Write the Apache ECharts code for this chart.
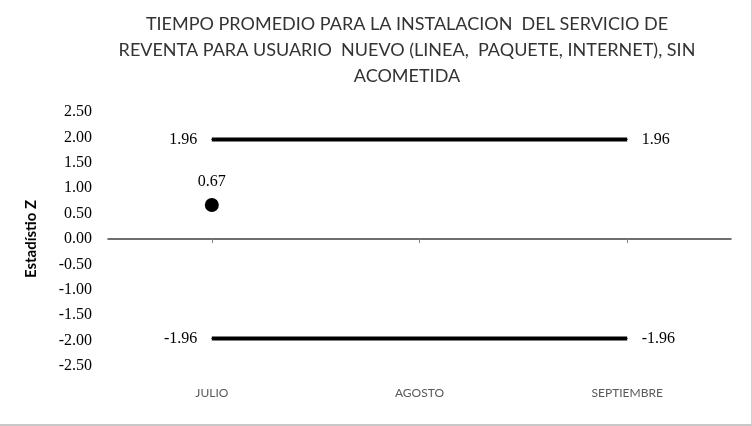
<!DOCTYPE html>
<html>
<head>
<meta charset="utf-8">
<script src="https://cdn.jsdelivr.net/npm/echarts@6/dist/echarts.min.js"></script>
<style>
html,body{margin:0;padding:0;background:#fff;}
#c{width:752px;height:426px;box-sizing:border-box;border-right:1px solid #d0d0d0;border-bottom:2px solid #c8c8c8;}
</style>
</head>
<body>
<div id="c"></div>
<script>
var categories = ['JULIO', 'AGOSTO', 'SEPTIEMBRE'];
var upperLimit = [1.96, 1.96, 1.96];
var lowerLimit = [-1.96, -1.96, -1.96];
var zValues = [0.67, null, null];
var titleText = 'TIEMPO PROMEDIO PARA LA INSTALACION  DEL SERVICIO DE\nREVENTA PARA USUARIO  NUEVO (LINEA,  PAQUETE, INTERNET), SIN\nACOMETIDA';
var yAxisName = 'Estadístio Z';

var serifFont = 'Liberation Serif';
var sansFont = 'Lato';
function limitData(arr) {
  return arr.map(function (v, i) {
    var item = { value: v };
    if (i === 0) item.label = { show: true, position: 'left' };
    else if (i === arr.length - 1) item.label = { show: true, position: 'right' };
    return item;
  });
}
var limitLabel = {
  show: false, distance: 14, color: '#000', fontFamily: serifFont, fontSize: 16,
  formatter: function (p) { return p.value.toFixed(2); }
};

var chart = echarts.init(document.getElementById('c'));
chart.setOption({
  animation: false,
  backgroundColor: '#fff',
  title: {
    text: titleText,
    left: 402, top: 6, textAlign: 'center',
    textStyle: { fontFamily: sansFont, fontSize: 18, fontWeight: 'normal', color: '#333', lineHeight: 26 }
  },
  grid: { left: 108, right: 20, top: 112, bottom: 58 },
  xAxis: [
    {
      type: 'category', data: categories, position: 'bottom',
      axisLine: { onZero: true, lineStyle: { color: '#404040', width: 1.5 } },
      axisTick: { show: true, alignWithLabel: true, length: 4, lineStyle: { color: '#808080' } },
      axisLabel: { show: false }
    },
    {
      type: 'category', data: categories, position: 'bottom',
      axisLine: { show: false, onZero: false }, axisTick: { show: false },
      axisLabel: { show: true, margin: 21, fontFamily: sansFont, fontSize: 12, color: '#595959' }
    }
  ],
  yAxis: {
    type: 'value', min: -2.5, max: 2.5, interval: 0.5,
    name: yAxisName, nameLocation: 'middle', nameGap: 69, nameRotate: 90,
    nameTextStyle: { fontFamily: sansFont, fontSize: 15, fontWeight: 'bold', color: '#000' },
    axisLine: { show: false }, axisTick: { show: false }, splitLine: { show: false },
    axisLabel: { margin: 16, fontFamily: serifFont, fontSize: 16, color: '#000',
      formatter: function (v) { return v.toFixed(2); } }
  },
  series: [
    {
      type: 'line', data: limitData(upperLimit), symbol: 'circle', symbolSize: 1,
      lineStyle: { color: '#000', width: 4 }, itemStyle: { color: '#000' }, label: limitLabel
    },
    {
      type: 'line', data: limitData(lowerLimit), symbol: 'circle', symbolSize: 1,
      lineStyle: { color: '#000', width: 4 }, itemStyle: { color: '#000' }, label: limitLabel
    },
    {
      type: 'scatter', data: zValues, symbol: 'circle', symbolSize: 14,
      itemStyle: { color: '#000', opacity: 1 },
      label: { show: true, position: 'top', distance: 8, color: '#000', fontFamily: serifFont, fontSize: 16,
        formatter: function (p) { return p.value.toFixed(2); } }
    }
  ]
});
</script>
</body>
</html>
